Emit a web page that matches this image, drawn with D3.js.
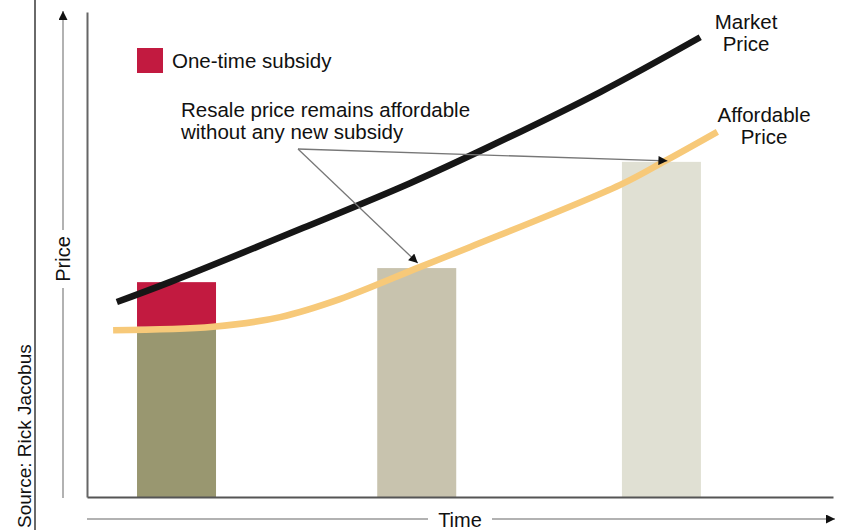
<!DOCTYPE html>
<html>
<head>
<meta charset="utf-8">
<script src="https://cdn.jsdelivr.net/npm/d3@7"></script>
<style>
  body { margin: 0; background: #fff; }
  svg { display: block; font-family: 'Liberation Sans', Arial, sans-serif; }
</style>
</head>
<body>
<div id="chart"></div>
<script>
const marketTime = [4.0, 11.1, 29.0, 43.3, 53.6, 68.8, 82.2];
const marketPrice = [40.2, 44.3, 55.5, 64.7, 72.0, 83.5, 94.8];
const affordTime = [3.5, 16.9, 25.9, 33.9, 44.6, 51.3, 71.4, 77.5, 84.5];
const affordPrice = [34.4, 35.1, 37.1, 40.8, 47.4, 51.5, 64.3, 69.3, 75.3];
const barTime = [12.0, 44.2, 77.0];
const barBase = [35.1, 47.2, 69.1];
const barSubsidy = [9.2, 0, 0];
const barColors = ['#999770', '#c8c3ae', '#e0e0d3'];
const subsidyColor = '#c21a40';

const width = 844;
const height = 530;
const margin = { top: 12, right: 11, bottom: 33, left: 87 };
const barWidth = 79;

const svg = d3
  .select('#chart')
  .append('svg')
  .attr('width', width)
  .attr('height', height);

const x = d3
  .scaleLinear()
  .domain([0, 100])
  .range([margin.left, width - margin.right]);
const y = d3
  .scaleLinear()
  .domain([0, 100])
  .range([height - margin.bottom, margin.top]);

const defs = svg.append('defs');
defs.append('marker')
  .attr('id', 'head')
  .attr('viewBox', '0 0 10 10')
  .attr('refX', 10)
  .attr('refY', 5)
  .attr('markerUnits', 'userSpaceOnUse')
  .attr('markerWidth', 11)
  .attr('markerHeight', 9)
  .attr('orient', 'auto')
  .append('path')
  .attr('d', 'M0,0L10,5L0,10Z')
  .attr('fill', '#111');

// left border
svg.append('line')
  .attr('x1', 35).attr('x2', 35)
  .attr('y1', 0).attr('y2', height)
  .attr('stroke', '#6a6a6a')
  .attr('stroke-width', 2);

// bars
const bars = svg.append('g');
bars.selectAll('.base')
  .data(barTime)
  .enter()
  .append('rect')
  .attr('class', 'base')
  .attr('x', (d) => x(d) - barWidth / 2)
  .attr('y', (d, i) => y(barBase[i]))
  .attr('width', barWidth)
  .attr('height', (d, i) => y(0) - y(barBase[i]))
  .attr('fill', (d, i) => barColors[i]);
bars.selectAll('.subsidy')
  .data(barTime.filter((d, i) => barSubsidy[i] > 0))
  .enter()
  .append('rect')
  .attr('class', 'subsidy')
  .attr('x', (d) => x(d) - barWidth / 2)
  .attr('y', (d, i) => y(barBase[i] + barSubsidy[i]))
  .attr('width', barWidth)
  .attr('height', (d, i) => y(barBase[i]) - y(barBase[i] + barSubsidy[i]))
  .attr('fill', subsidyColor);

// lines
const line = d3
  .line()
  .x((d) => x(d[0]))
  .y((d) => y(d[1]))
  .curve(d3.curveCatmullRom.alpha(0.5));

svg.append('path')
  .datum(affordTime.map((t, i) => [t, affordPrice[i]]))
  .attr('d', line)
  .attr('fill', 'none')
  .attr('stroke', '#f7c979')
  .attr('stroke-width', 6.5);

svg.append('path')
  .datum(marketTime.map((t, i) => [t, marketPrice[i]]))
  .attr('d', line)
  .attr('fill', 'none')
  .attr('stroke', '#161616')
  .attr('stroke-width', 6.5);

// axes
const xAxis = d3.axisBottom(x).tickValues([]).tickSizeOuter(0);
svg.append('g')
  .attr('transform', `translate(0,${y(0)})`)
  .call(xAxis)
  .select('.domain')
  .attr('stroke', '#555')
  .attr('stroke-width', 2);
const yAxis = d3.axisLeft(y).tickValues([]).tickSizeOuter(0);
svg.append('g')
  .attr('transform', `translate(${x(0)},0)`)
  .call(yAxis)
  .select('.domain')
  .attr('stroke', '#666')
  .attr('stroke-width', 2);

// axis arrows
svg.append('line')
  .attr('x1', x(0)).attr('x2', 835)
  .attr('y1', 519).attr('y2', 519)
  .attr('stroke', '#999')
  .attr('stroke-width', 1.5)
  .attr('marker-end', 'url(#head)');
svg.append('rect')
  .attr('x', 428).attr('y', 506)
  .attr('width', 64).attr('height', 24)
  .attr('fill', '#fff');
svg.append('text')
  .attr('x', 460).attr('y', 527)
  .attr('text-anchor', 'middle')
  .attr('font-size', 20)
  .attr('fill', '#111')
  .text('Time');

svg.append('line')
  .attr('x1', 63).attr('x2', 63)
  .attr('y1', 498).attr('y2', 11)
  .attr('stroke', '#999')
  .attr('stroke-width', 1.5)
  .attr('marker-end', 'url(#head)');
svg.append('rect')
  .attr('x', 50).attr('y', 230)
  .attr('width', 26).attr('height', 58)
  .attr('fill', '#fff');
svg.append('text')
  .attr('transform', 'translate(70,259) rotate(-90)')
  .attr('text-anchor', 'middle')
  .attr('font-size', 20)
  .attr('fill', '#111')
  .text('Price');

svg.append('text')
  .attr('transform', 'translate(31,528) rotate(-90)')
  .attr('font-size', 19)
  .attr('fill', '#111')
  .text('Source: Rick Jacobus');

// legend
svg.append('rect')
  .attr('x', 137).attr('y', 48)
  .attr('width', 26).attr('height', 25)
  .attr('fill', subsidyColor);
svg.append('text')
  .attr('x', 172).attr('y', 68)
  .attr('font-size', 20.5)
  .attr('fill', '#111')
  .text('One-time subsidy');

// line labels
const labels = svg.append('g')
  .attr('font-size', 20.5)
  .attr('fill', '#111')
  .attr('text-anchor', 'middle');
labels.append('text').attr('x', 746).attr('y', 29).text('Market');
labels.append('text').attr('x', 746).attr('y', 51).text('Price');
labels.append('text').attr('x', 764).attr('y', 122).text('Affordable');
labels.append('text').attr('x', 764).attr('y', 144).text('Price');

// annotation
svg.append('text')
  .attr('x', 181).attr('y', 117)
  .attr('font-size', 20.5)
  .attr('fill', '#111')
  .text('Resale price remains affordable');
svg.append('text')
  .attr('x', 181).attr('y', 139)
  .attr('font-size', 20.5)
  .attr('fill', '#111')
  .text('without any new subsidy');

const origin = [298, 149];
const targets = [
  [x(barTime[1]) + 1, y(barBase[1]) - 5],
  [x(barTime[2]) + 6, y(barBase[2]) - 1],
];
svg.append('g')
  .selectAll('line')
  .data(targets)
  .enter()
  .append('line')
  .attr('x1', origin[0]).attr('y1', origin[1])
  .attr('x2', (d) => d[0]).attr('y2', (d) => d[1])
  .attr('stroke', '#777')
  .attr('stroke-width', 1.3)
  .attr('marker-end', 'url(#head)');
</script>
</body>
</html>
